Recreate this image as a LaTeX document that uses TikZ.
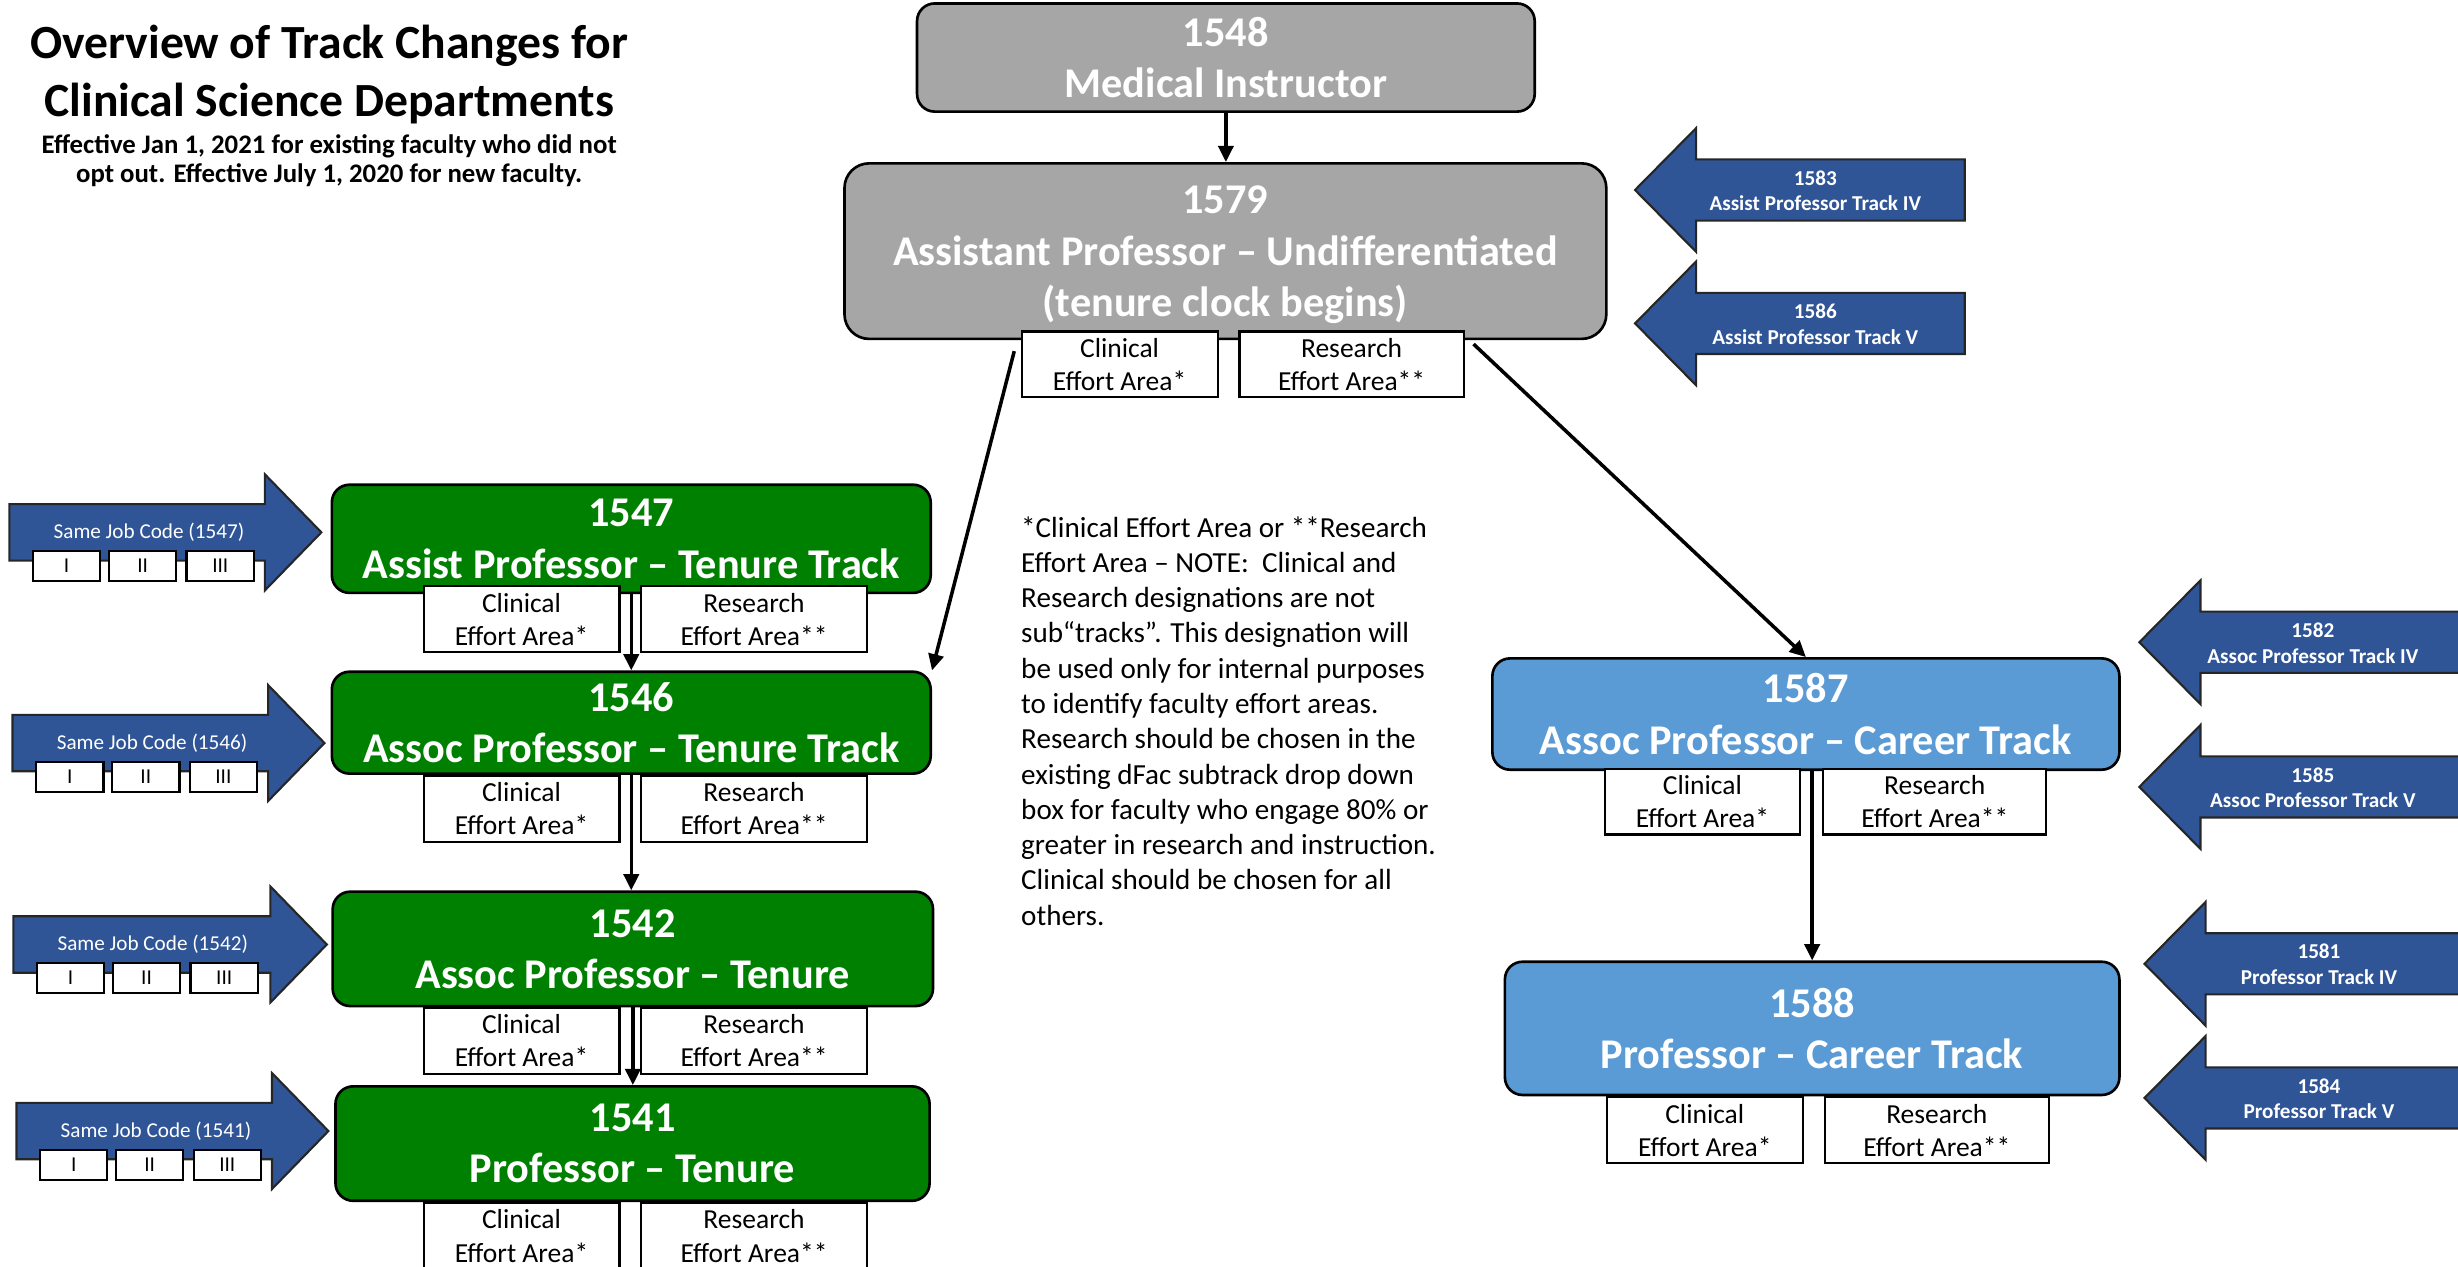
\documentclass[tikz,border=0pt]{standalone}
\usepackage{fontspec}
\setmainfont{Carlito}
\usetikzlibrary{arrows.meta,positioning,calc}

\definecolor{rankgray}{RGB}{166,166,166}
\definecolor{tenuregreen}{RGB}{0,128,0}
\definecolor{careerblue}{RGB}{91,155,213}
\definecolor{codeblue}{RGB}{47,85,151}

\begin{document}
\begin{tikzpicture}[x=0.4444pt, y=-0.4444pt,
    boxsize/.style 2 args={minimum width=#1*0.4444pt, minimum height=#2*0.4444pt},
    rank/.style={draw=black, line width=0.75pt, rounded corners=5pt, text=white, align=center, inner sep=0pt, font=\fontsize{12}{14.5}\selectfont\bfseries},
    lowered/.style={text depth=-2pt},
    effort/.style={draw=black, line width=0.6pt, fill=white, align=center, inner sep=0pt, font=\fontsize{7.8}{9.4}\selectfont},
    level/.style={draw=black, line width=0.6pt, fill=white, inner sep=0pt, boxsize={43}{19}, font=\fontsize{6}{7}\selectfont},
    codeshape/.style={fill=codeblue, draw=black!85, line width=0.6pt, line join=miter},
    codetext/.style={text=white, align=center, inner sep=0pt},
    flow/.style={-{Triangle[length=4.6pt,width=4.3pt]}, line width=1pt}]

    % Frame
    \useasboundingbox (0,0) rectangle (1568,808);
    \clip (0,0) rectangle (1568,808);

    % Title
    \node[align=center, inner sep=0pt, font=\fontsize{13.5}{16.4}\selectfont\bfseries] (title) at (210,47.5) {Overview of Track Changes for\\Clinical Science Departments};
    \node[align=center, inner sep=0pt, font=\fontsize{7.6}{8.4}\selectfont\bfseries] (subtitle) at (210,102.5) {Effective Jan 1, 2021 for existing faculty who did not\\opt out. Effective July 1, 2020 for new faculty.};

    % Top: instructor and undifferentiated
    \node[rank, lowered, fill=rankgray, boxsize={394}{69}] (instr) at (782,36.7) {1548\\Medical Instructor};
    \node[rank, lowered, text depth=-4pt, fill=rankgray, boxsize={486}{112}, rounded corners=7pt] (undiff) at (781.7,160.2) {1579\\Assistant Professor -- Undifferentiated\\(tenure clock begins)};
    \node[effort, boxsize={125}{42}] (undiff-clin) at (714.2,232.5) {Clinical\\Effort Area*};
    \node[effort, boxsize={143}{42}] (undiff-res) at (862.2,232.5) {Research\\Effort Area**};

    % Left: tenure ladder
    \node[rank, lowered, fill=tenuregreen, boxsize={382}{69}] (tt1547) at (402.7,343.7) {1547\\Assist Professor -- Tenure Track};
    \node[rank, lowered, fill=tenuregreen, boxsize={382}{65}] (tt1546) at (402.7,461) {1546\\Assoc Professor -- Tenure Track};
    \node[rank, lowered, fill=tenuregreen, boxsize={383}{73}] (t1542) at (403.7,605.3) {1542\\Assoc Professor -- Tenure};
    \node[rank, lowered, fill=tenuregreen, boxsize={379}{73}] (t1541) at (403.5,729.5) {1541\\Professor -- Tenure};
    \foreach \n/\y in {tt1547/395, tt1546/516, t1542/664, t1541/788.5} {
        \node[effort, boxsize={125}{42}] (\n-clin) at (332.7,\y) {Clinical\\Effort Area*};
        \node[effort, boxsize={144}{42}] (\n-res) at (481,\y) {Research\\Effort Area**};
    }

    % Same job code arrows
    \foreach \code/\L/\T/\c in {1547/6/205/339.6, 1546/8/207/474, 1542/8.5/208.5/602.5, 1541/10.5/209.5/721.5} {
        \draw[codeshape] (\L,\c-18) -- (\T-36,\c-18) -- (\T-36,\c-37) -- (\T,\c) -- (\T-36,\c+37) -- (\T-36,\c+18) -- (\L,\c+18) -- cycle;
        \node[codetext, font=\fontsize{6}{7}\selectfont] (same\code) at (\L+89,\c) {Same Job Code (\code)};
        \foreach \lv/\dx in {I/36.5, II/85, III/134.5}
            \node[level] (lvl\code\lv) at (\L+\dx,\c+21.5) {\lv};
    }

    % Right: career ladder
    \node[rank, fill=careerblue, boxsize={400}{71}] (ct1587) at (1152,455.5) {1587\\Assoc Professor -- Career Track};
    \node[rank, fill=careerblue, boxsize={392}{85}] (ct1588) at (1156,656) {1588\\Professor -- Career Track};
    \node[effort, boxsize={124.5}{42}] (ct1587-clin) at (1086,511.3) {Clinical\\Effort Area*};
    \node[effort, boxsize={142.4}{42}] (ct1587-res) at (1234.2,511.3) {Research\\Effort Area**};
    \node[effort, boxsize={125}{42}] (ct1588-clin) at (1087.5,721) {Clinical\\Effort Area*};
    \node[effort, boxsize={143}{42}] (ct1588-res) at (1235.5,721) {Research\\Effort Area**};

    % Track IV / V arrows
    \foreach \code/\T/\c/\R/\tx/\label in {1583/1043/121.2/1253.3/1158/Assist Professor Track IV,
            1586/1043/206.3/1253.3/1158/Assist Professor Track V,
            1582/1364.7/409.7/1580/1475.4/Assoc Professor Track IV,
            1585/1364.7/502/1580/1475.4/Assoc Professor Track V,
            1581/1368/614.8/1580/1479.3/Professor Track IV,
            1584/1368/700.4/1580/1479.3/Professor Track V} {
        \draw[codeshape] (\R,\c-19.5) -- (\T+39,\c-19.5) -- (\T+39,\c-39.5) -- (\T,\c) -- (\T+39,\c+39.5) -- (\T+39,\c+19.5) -- (\R,\c+19.5) -- cycle;
        \node[codetext, font=\fontsize{6}{7.25}\selectfont\bfseries] (track\code) at (\tx,\c+0.5) {\code\\\label};
    }

    % Connectors
    \coordinate (undiff-left) at (647,224);
    \coordinate (undiff-right) at (940,219.5);
    \draw[flow] (instr.south) -- (instr.south |- undiff.north);
    \draw[flow] (undiff-left) -- (tt1546.north east);
    \draw[flow] (undiff-right) -- (ct1587.north);
    \draw[flow] (tt1547.south) -- (tt1547.south |- tt1546.north);
    \draw[flow] (tt1546.south) -- (tt1546.south |- t1542.north);
    \draw[flow] (t1542.south) -- (t1542.south |- t1541.north);
    \draw[flow] (ct1587.south -| ct1588.north) -- (ct1588.north);

    % Note
    \node[anchor=north west, align=left, inner sep=0pt, font=\fontsize{8.25}{10}\selectfont] (note) at (651,329) {*Clinical Effort Area or **Research\\
        Effort Area -- NOTE:\ \ Clinical and\\
        Research designations are not\\
        sub“tracks”. This designation will\\
        be used only for internal purposes\\
        to identify faculty effort areas.\\
        Research should be chosen in the\\
        existing dFac subtrack drop down\\
        box for faculty who engage 80\% or\\
        greater in research and instruction.\\
        Clinical should be chosen for all\\
        others.};
\end{tikzpicture}
\end{document}
